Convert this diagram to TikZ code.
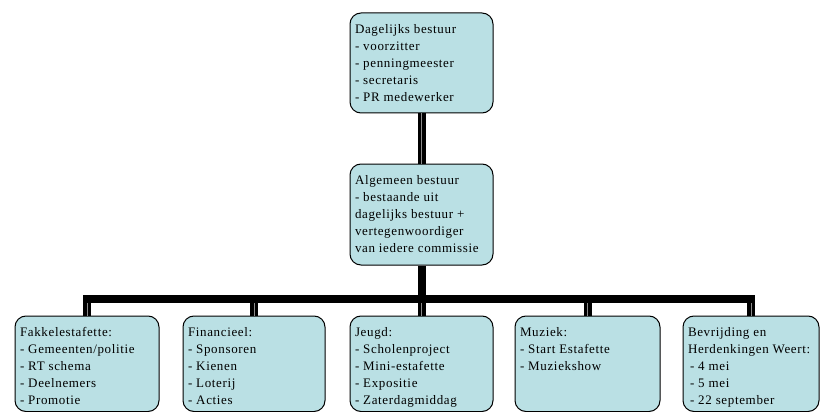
\documentclass[tikz,border=0pt]{standalone}
\usepackage{fontspec}
\setmainfont{Liberation Serif}[LetterSpace=5]
\definecolor{azulclaro}{RGB}{186,224,228}
\newcommand{\texto}[3]{\parbox[t][#2][t]{#1}{\raggedright #3}}
\begin{document}
\begin{tikzpicture}[x=1pt, y=1pt,
  every node/.style={draw, line width=1pt, rounded corners=11pt, fill=azulclaro, inner xsep=5pt, inner ysep=11pt,
    font=\fontsize{13}{17}\selectfont}
]
\tikzset{
  ligacao/.style={draw=black, line width=3.5pt, double=black!45, double distance=1pt},
  barra/.style={draw=black, line width=8pt, line cap=rect}
}
\useasboundingbox (0,0) rectangle (820,-412);
\node (dag) at (421.5,-63) {\texto{133pt}{78pt}{Dagelijks bestuur\\- voorzitter\\- penningmeester\\- secretaris\\- PR medewerker}};
\node (alg) at (421.5,-214.5) {\texto{133pt}{79pt}{Algemeen bestuur\\- bestaande uit\\dagelijks bestuur +\\vertegenwoordiger\\van iedere commissie}};
\node (fak) at (87,-363.75) {\texto{134pt}{73.5pt}{Fakkelestafette:\\- Gemeenten/politie\\- RT schema\\- Deelnemers\\- Promotie}};
\node (fin) at (254,-363.75) {\texto{132pt}{73.5pt}{Financieel:\\- Sponsoren\\- Kienen\\- Loterij\\- Acties}};
\node (jeu) at (421.5,-363.75) {\texto{133pt}{73.5pt}{Jeugd:\\- Scholenproject\\- Mini-estafette\\- Expositie\\- Zaterdagmiddag}};
\node (muz) at (587.5,-363.75) {\texto{135pt}{73.5pt}{Muziek:\\- Start Estafette\\- Muziekshow}};
\node (bev) at (751,-363.75) {\texto{126pt}{73.5pt}{Bevrijding en\\Herdenkingen Weert:\\\hspace*{2pt}- 4 mei\\\hspace*{2pt}- 5 mei\\\hspace*{2pt}- 22 september}};
\coordinate (nivel) at (0,-299);
\draw[ligacao] (dag.south) -- (alg.north);
\draw[barra, line cap=butt] (alg.south) -- (alg.south |- nivel);
\foreach \n in {fak,fin,jeu,muz,bev}
  \draw[ligacao] (\n.north) -- (\n.north |- nivel);
\draw[barra] (fak.north |- nivel) -- (bev.north |- nivel); % barra horizontal
\end{tikzpicture}
\end{document}
